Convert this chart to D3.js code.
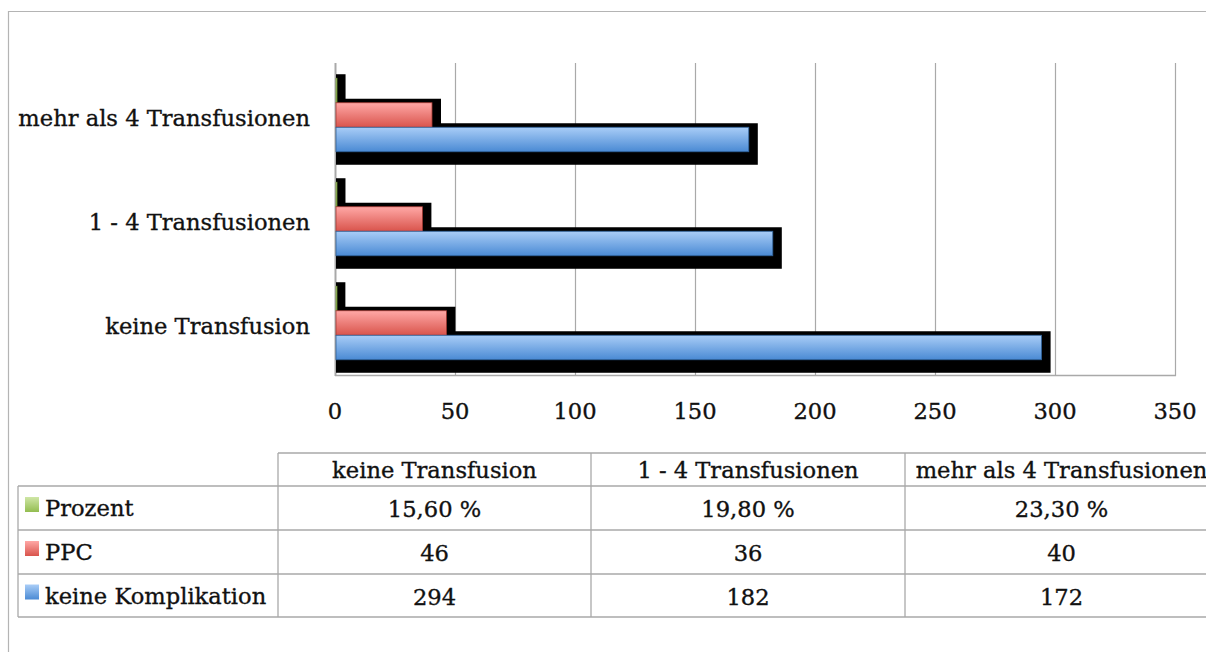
<!DOCTYPE html>
<html>
<head>
<meta charset="utf-8">
<script src="https://cdn.jsdelivr.net/npm/d3@7"></script>
<style>
  html, body { margin: 0; padding: 0; background: #fff; }
  svg { display: block; }
  text { font-family: "DejaVu Serif", "Liberation Serif", serif; fill: #111; stroke: #111; stroke-width: 0.35px; }
</style>
</head>
<body>
<svg id="chart" width="1206" height="652"></svg>
<script>
// Categories, top to bottom as drawn in the bar area
const categories = ["mehr als 4 Transfusionen", "1 - 4 Transfusionen", "keine Transfusion"];
// Table column order
const tableCategories = ["keine Transfusion", "1 - 4 Transfusionen", "mehr als 4 Transfusionen"];
const seriesNames = ["Prozent", "PPC", "keine Komplikation"];
// Values in table column order
const prozent = [0.156, 0.198, 0.233];
const ppc = [46, 36, 40];
const keineKomplikation = [294, 182, 172];
const prozentLabels = ["15,60 %", "19,80 %", "23,30 %"];
const xTicks = [0, 50, 100, 150, 200, 250, 300, 350];

const seriesValues = [prozent, ppc, keineKomplikation];
const seriesColors = [
  { top: "#cfe6a6", bottom: "#93bd50", edge: "#6f9236" },
  { top: "#ffa8a6", bottom: "#d9544c", edge: "#a33a34" },
  { top: "#a9cdf7", bottom: "#4a8ad4", edge: "#2d5f97" }
];
const FS = 22.6;

const svg = d3.select("#chart");

// gradients
const defs = svg.append("defs");
seriesColors.forEach((c, i) => {
  const g = defs.append("linearGradient")
    .attr("id", "grad" + i).attr("x1", 0).attr("y1", 0).attr("x2", 0).attr("y2", 1);
  g.append("stop").attr("offset", "0%").attr("stop-color", c.top);
  g.append("stop").attr("offset", "100%").attr("stop-color", c.bottom);
});

// outer frame
svg.append("path")
  .attr("d", "M8.5,652 V11.5 H1206")
  .attr("fill", "none").attr("stroke", "#b4b4b4").attr("stroke-width", 1.2);

const x = d3.scaleLinear().domain([0, 350]).range([335, 1175]);
const y = d3.scaleBand().domain(categories).range([63, 375])
  .paddingInner(0.293).paddingOuter(0.1465);
const ySub = d3.scaleBand().domain(seriesNames).range([0, y.bandwidth()]);

// gridlines
svg.append("g").selectAll("line").data(xTicks).join("line")
  .attr("x1", d => x(d) + 0.5).attr("x2", d => x(d) + 0.5)
  .attr("y1", 63).attr("y2", 376)
  .attr("stroke", "#a9a9a9").attr("stroke-width", d => d === 0 ? 2 : 1.2);
svg.append("line")
  .attr("x1", x(0)).attr("x2", x(350) + 1)
  .attr("y1", 375.5).attr("y2", 375.5)
  .attr("stroke", "#a9a9a9").attr("stroke-width", 1.5);

// bar records
const bars = [];
categories.forEach(cat => {
  const ci = tableCategories.indexOf(cat);
  seriesNames.forEach((s, si) => {
    bars.push({ cat, s, si, v: seriesValues[si][ci] });
  });
});

// shadows first, then bars
svg.append("g").selectAll("rect").data(bars).join("rect")
  .attr("x", x(0) + 1)
  .attr("y", d => y(d.cat) + ySub(d.s) - 4)
  .attr("width", d => x(d.v) - x(0) + 9)
  .attr("height", ySub.bandwidth() + 17)
  .attr("fill", "#000");

svg.append("g").selectAll("rect").data(bars).join("rect")
  .attr("x", x(0) + 1)
  .attr("y", d => y(d.cat) + ySub(d.s))
  .attr("width", d => Math.max(1, x(d.v) - x(0)))
  .attr("height", ySub.bandwidth())
  .attr("fill", d => `url(#grad${d.si})`)
  .attr("stroke", d => seriesColors[d.si].edge)
  .attr("stroke-width", 0.8);

// x tick labels
svg.append("g").selectAll("text").data(xTicks).join("text")
  .attr("x", d => x(d)).attr("y", 419)
  .attr("text-anchor", "middle").attr("font-size", FS)
  .text(d => d);

// category labels
svg.append("g").selectAll("text").data(categories).join("text")
  .attr("x", 310).attr("y", d => y(d) + y.bandwidth() / 2 + 11)
  .attr("text-anchor", "end").attr("font-size", FS)
  .text(d => d);

// data table
const colX = [18, 278, 591, 905, 1218];
const rowY = [453, 486, 530, 574, 617];
const gridColor = "#a9a9a9";
const table = svg.append("g").attr("stroke", gridColor).attr("stroke-width", 1.3);
// header row
table.append("line").attr("x1", colX[1]).attr("x2", colX[4]).attr("y1", rowY[0]).attr("y2", rowY[0]);
// other horizontal lines
rowY.slice(1).forEach(yy => {
  table.append("line").attr("x1", colX[0]).attr("x2", colX[4]).attr("y1", yy).attr("y2", yy);
});
// vertical lines
colX.forEach((xx, i) => {
  table.append("line").attr("x1", xx).attr("x2", xx)
    .attr("y1", i === 0 ? rowY[1] : rowY[0]).attr("y2", rowY[4]);
});

// header text
svg.append("g").selectAll("text").data(tableCategories).join("text")
  .attr("x", (d, i) => (colX[i + 1] + colX[i + 2]) / 2)
  .attr("y", (rowY[0] + rowY[1]) / 2 + 8)
  .attr("text-anchor", "middle").attr("font-size", FS)
  .text(d => d);

// row labels with legend keys
const rowTexts = [prozentLabels, ppc.map(String), keineKomplikation.map(String)];
seriesNames.forEach((s, si) => {
  const cy = (rowY[si + 1] + rowY[si + 2]) / 2;
  svg.append("rect")
    .attr("x", 25).attr("y", cy - 11).attr("width", 14).attr("height", 15)
    .attr("fill", `url(#grad${si})`);
  svg.append("text")
    .attr("x", 45).attr("y", cy + 8).attr("font-size", FS).text(s);
  rowTexts[si].forEach((t, ci) => {
    svg.append("text")
      .attr("x", (colX[ci + 1] + colX[ci + 2]) / 2)
      .attr("y", cy + 9)
      .attr("text-anchor", "middle").attr("font-size", FS)
      .text(t);
  });
});
</script>
</body>
</html>
